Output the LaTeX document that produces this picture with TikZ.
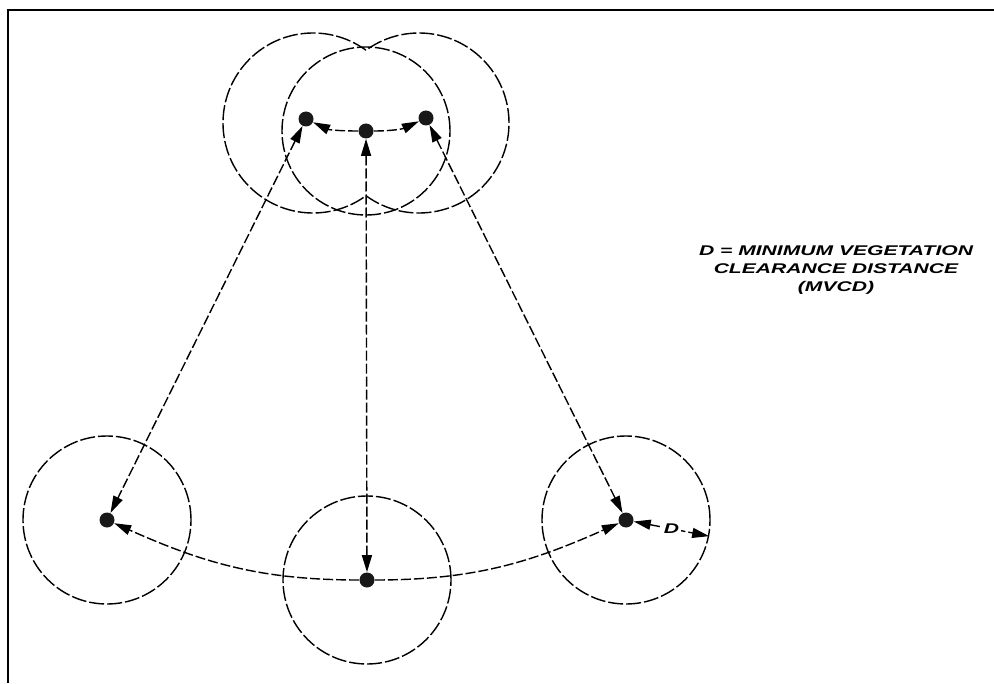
\documentclass[tikz,border=0pt]{standalone}
\usepackage{fontspec}
\newfontfamily\notefont[FakeStretch=1.5]{Liberation Sans}
\usetikzlibrary{arrows.meta}

\tikzset{
  dotnode/.style={circle, fill=black!90, inner sep=0pt, minimum size=3mm},
  ringnode/.style={circle, draw, dash pattern=on 3mm off 0.6mm, line width=0.8pt, inner sep=0pt, minimum size=33.6mm},
  ringarc/.style={dash pattern=on 3mm off 0.6mm, line width=0.8pt},
  dimline/.style={dash pattern=on 2mm off 0.6mm, line width=0.8pt},
  headend/.style={-{Triangle[length=3.4mm, width=2mm]}},
  headboth/.style={{Triangle[length=3.4mm, width=2mm]}-{Triangle[length=3.4mm, width=2mm]}},
  notetext/.style={font=\notefont\fontsize{8pt}{10.2pt}\selectfont\bfseries\itshape, align=center}
}

\begin{document}
\begin{tikzpicture}[x=0.2mm, y=0.2mm]

\useasboundingbox (0,0) rectangle (994,683);
\draw[line width=0.5mm] (8,0) |- (994,673);

% top group
\node[dotnode] (T)  at (366,552) {};
\node[dotnode] (TL) at (306,564) {};
\node[dotnode] (TR) at (426,565) {};

\draw[ringarc] (313,560) ++(54:90) arc[start angle=54, end angle=306, radius=90];
\draw[ringarc] (419,560) ++(-126:90) arc[start angle=-126, end angle=126, radius=90];
\draw[ringarc] (366,552) circle[radius=84];

% bottom group
\node[ringnode] (BLring) at (107,163) {};
\node[ringnode] (BMring) at (367,103) {};
\node[ringnode] (BRring) at (626,163) {};

\node[dotnode] (BL) at (BLring.center) {};
\node[dotnode] (BM) at (BMring.center) {};
\node[dotnode] (BR) at (BRring.center) {};

\draw[dimline, headend] (T) to[out=180, in=-25] (TL);
\draw[dimline, headend] (T) to[out=0, in=205] (TR);

\draw[dimline, headboth] (T)  -- (BM);
\draw[dimline, headboth] (TL) -- (BL);
\draw[dimline, headboth] (TR) -- (BR);
\draw[dimline, headend] (BM) to[out=180, in=-24] (BL);
\draw[dimline, headend] (BM) to[out=0, in=204] (BR);

\draw[dimline, headboth] (BR) -- (BRring.-11)
  node[midway, notetext, fill=white, inner sep=1pt] (Dlab) {D};

\node[notetext] (mvcd) at (836,413) {D = MINIMUM VEGETATION\\CLEARANCE DISTANCE\\(MVCD)};

\end{tikzpicture}
\end{document}
